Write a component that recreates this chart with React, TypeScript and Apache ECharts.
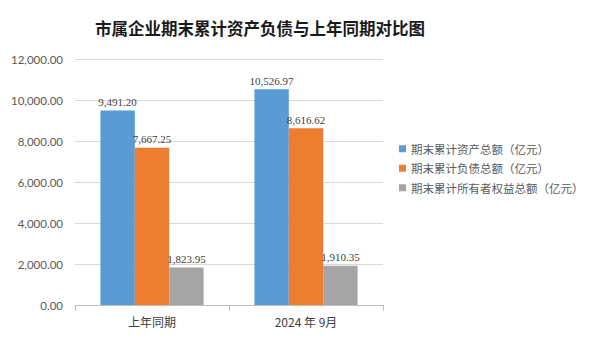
import React, { useEffect, useRef } from "react";
import * as echarts from "echarts";

const title = "市属企业期末累计资产负债与上年同期对比图";
const categories = ["上年同期", "2024 年 9月"];
const seriesNames = ["期末累计资产总额（亿元）", "期末累计负债总额（亿元）", "期末累计所有者权益总额（亿元）"];
const assets = [9491.2, 10526.97];
const liabilities = [7667.25, 8616.62];
const equity = [1823.95, 1910.35];
const colors = ["#5b9bd5", "#ed7d31", "#a5a5a5"];

const fmt = (v: number) =>
  v.toLocaleString("en-US", { minimumFractionDigits: 2, maximumFractionDigits: 2 });

export default function App() {
  const ref = useRef<HTMLDivElement>(null);
  useEffect(() => {
    if (!ref.current) return;
    const chart = echarts.init(ref.current, null, { renderer: "svg" });
    const values = [assets, liabilities, equity];
    chart.setOption({
      animation: false,
      backgroundColor: "#ffffff",
      graphic: [
        {
          type: "text",
          x: 252,
          y: 20,
          style: {
            text: title,
            align: "center",
            verticalAlign: "middle",
            fontSize: 16.5,
            fontWeight: "bold",
            fill: "#1a1a1a",
            fontFamily: "Noto Sans CJK SC",
          },
        },
      ],
      grid: { left: 64, right: 209, top: 51, bottom: 24, containLabel: false },
      legend: {
        orient: "vertical",
        left: 386,
        top: 130,
        itemWidth: 7,
        itemHeight: 7,
        itemGap: 8,
        icon: "rect",
        textStyle: { fontSize: 11.5, color: "#595959", fontFamily: "Noto Sans CJK SC" },
        data: seriesNames,
      },
      xAxis: {
        type: "category",
        data: categories,
        axisLine: { lineStyle: { color: "#bfbfbf" } },
        axisTick: { show: true, lineStyle: { color: "#bfbfbf" }, length: 6 },
        axisLabel: { fontSize: 12, color: "#404040", margin: 10, fontFamily: "Noto Sans CJK SC" },
      },
      yAxis: {
        type: "value",
        min: 0,
        max: 12000,
        interval: 2000,
        axisLine: { show: false },
        axisTick: { show: false },
        splitLine: { lineStyle: { color: "#d9d9d9" } },
        axisLabel: { fontSize: 11.5, color: "#595959", margin: 12, fontFamily: "Lato", formatter: (v: number) => fmt(v) },
      },
      series: seriesNames.map((name, i) => ({
        name,
        type: "bar",
        data: values[i],
        barGap: "0%",
        barCategoryGap: "33%",
        itemStyle: { color: colors[i] },
        label: {
          show: true,
          position: "top",
          distance: 3,
          fontSize: 11,
          color: "#404040",
          fontFamily: "Liberation Serif",
          formatter: (p: any) => fmt(p.value),
        },
      })),
    });
    return () => chart.dispose();
  }, []);
  return <div ref={ref} style={{ width: 584, height: 321 }} />;
}
